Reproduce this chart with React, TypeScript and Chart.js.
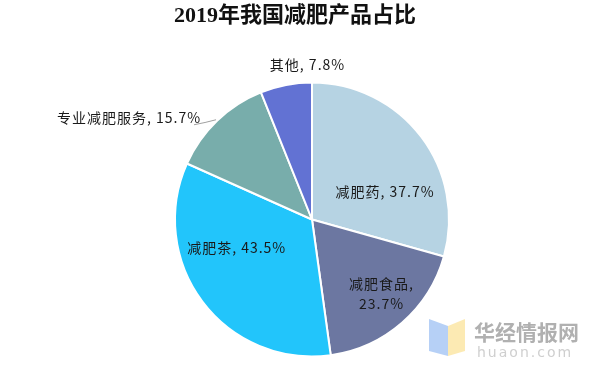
import React, { useEffect, useRef } from "react";
import { Chart, registerables } from "chart.js";

Chart.register(...registerables);

const titleText = "2019年我国减肥产品占比";
const categories = ["减肥药", "减肥食品", "减肥茶", "专业减肥服务", "其他"];
const values = [37.7, 23.7, 43.5, 15.7, 7.8];
const valueLabels = ["37.7%", "23.7%", "43.5%", "15.7%", "7.8%"];
const colors = ["#b6d3e3", "#6c77a1", "#22c5fb", "#78adab", "#6272d3"];

// label placement (style only): inside labels anchored at the arc centre point, outside at arc edge
const placements = [
  { mode: "in", dx: 18, dy: 14, twoLine: false, align: "center" },
  { mode: "in", dx: 24, dy: 23, twoLine: true, align: "center" },
  { mode: "in", dx: -21, dy: -13, twoLine: false, align: "center" },
  { mode: "out", dx: -17, dy: -3, twoLine: false, align: "right", leader: true },
  { mode: "out", dx: 21, dy: -20, twoLine: false, align: "center" },
];

const labelFont = "14px 'Noto Sans CJK SC', 'Noto Sans', sans-serif";

const labelPlugin = {
  id: "sliceLabels",
  afterDatasetsDraw(chart: any) {
    const ctx = chart.ctx;
    const meta = chart.getDatasetMeta(0);
    ctx.save();
    ctx.font = labelFont;
    (ctx as any).letterSpacing = "1px";
    ctx.fillStyle = "#1a1a1a";
    ctx.textBaseline = "middle";
    meta.data.forEach((arc: any, i: number) => {
      const p = placements[i];
      const { x, y, startAngle, endAngle, outerRadius } = arc.getProps(
        ["x", "y", "startAngle", "endAngle", "outerRadius"],
        true
      );
      const mid = (startAngle + endAngle) / 2;
      let ax: number, ay: number;
      if (p.mode === "in") {
        const c = arc.tooltipPosition(true);
        ax = c.x;
        ay = c.y;
      } else {
        ax = x + Math.cos(mid) * outerRadius;
        ay = y + Math.sin(mid) * outerRadius;
      }
      const lx = ax + p.dx;
      const ly = ay + p.dy;
      ctx.textAlign = p.align;
      const shift = p.align === "center" ? 0.5 : p.align === "right" ? 1 : 0;
      if (p.twoLine) {
        ctx.fillText(categories[i] + ",", lx + shift, ly - 10);
        ctx.fillText(valueLabels[i], lx + shift, ly + 10);
      } else {
        ctx.fillText(categories[i] + ", " + valueLabels[i], lx + shift, ly);
      }
      if ((p as any).leader) {
        ctx.strokeStyle = "#a0a0a0";
        ctx.lineWidth = 1;
        ctx.beginPath();
        ctx.moveTo(ax - 1, ay - 1);
        ctx.quadraticCurveTo(ax - 12, ay + 2, lx - 6, ly + 7);
        ctx.stroke();
      }
    });
    ctx.restore();
  },
};

const decorPlugin = {
  id: "decor",
  afterDraw(chart: any) {
    const ctx = chart.ctx;
    ctx.save();
    // title
    ctx.font = "bold 22px 'Liberation Serif', 'Noto Sans CJK SC', serif";
    ctx.fillStyle = "#111";
    ctx.textAlign = "center";
    ctx.textBaseline = "middle";
    ctx.fillText(titleText, 295, 16);
    // watermark
    ctx.globalAlpha = 0.85;
    ctx.fillStyle = "#a9c8f5";
    ctx.beginPath();
    ctx.moveTo(429, 319);
    ctx.lineTo(448, 326);
    ctx.lineTo(448, 356);
    ctx.lineTo(429, 351);
    ctx.closePath();
    ctx.fill();
    ctx.fillStyle = "#fbe6a6";
    ctx.beginPath();
    ctx.moveTo(448, 326);
    ctx.lineTo(465, 319);
    ctx.lineTo(465, 351);
    ctx.lineTo(448, 356);
    ctx.closePath();
    ctx.fill();
    ctx.globalAlpha = 1;
    ctx.fillStyle = "#b0b0b0";
    ctx.font = "bold 21px 'Noto Sans CJK SC', sans-serif";
    ctx.textAlign = "left";
    ctx.fillText("华经情报网", 474, 332);
    ctx.fillStyle = "#cfcfcf";
    ctx.font = "14px 'DejaVu Sans', sans-serif";
    (ctx as any).letterSpacing = "2px";
    ctx.fillText("huaon.com", 477, 353);
    ctx.restore();
  },
};

export default function App() {
  const ref = useRef<HTMLCanvasElement | null>(null);
  useEffect(() => {
    if (!ref.current) return;
    const chart = new Chart(ref.current, {
      type: "pie",
      data: {
        labels: categories,
        datasets: [
          {
            data: values,
            backgroundColor: colors,
            borderColor: "#ffffff",
            borderWidth: 2,
          },
        ],
      },
      options: {
        animation: false,
        responsive: false,
        layout: { padding: { top: 81, bottom: 17, left: 174, right: 150 } },
        plugins: {
          legend: { display: false },
          tooltip: { enabled: false },
          title: { display: false },
        },
      },
      plugins: [labelPlugin, decorPlugin],
    });
    return () => chart.destroy();
  }, []);
  return (
    <div style={{ position: "fixed", left: 0, top: 0, width: 600, height: 375, background: "#fff" }}>
      <canvas ref={ref} width={600} height={375} style={{ width: 600, height: 375 }} />
    </div>
  );
}
